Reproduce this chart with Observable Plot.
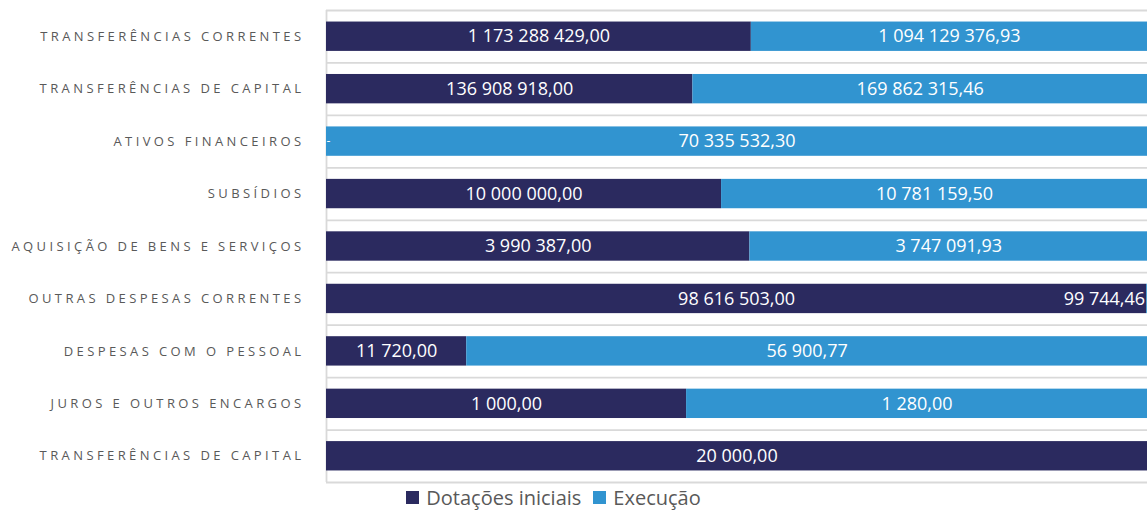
<!DOCTYPE html>
<html>
<head>
<meta charset="utf-8">
<script src="https://cdn.jsdelivr.net/npm/d3@7"></script>
<script src="https://cdn.jsdelivr.net/npm/@observablehq/plot@0.6"></script>
<style>
  body { margin: 0; background: #fff; font-family: "Open Sans", sans-serif; }
  #chart svg { display: block; }
  g[aria-label="y-axis tick label"] text { letter-spacing: 3.4px; }
  .legend { display: flex; justify-content: center; align-items: center; gap: 12px; font-size: 20px; color: #595959; height: 26px; padding-right: 40px; }
  .legend .item { display: flex; align-items: center; gap: 7px; }
  .legend .sw { width: 13px; height: 13px; display: inline-block; }
</style>
</head>
<body>
<div id="chart"></div>
<script>
const categories = [
  "TRANSFERÊNCIAS CORRENTES",
  "TRANSFERÊNCIAS DE CAPITAL",
  "ATIVOS FINANCEIROS",
  "SUBSÍDIOS",
  "AQUISIÇÃO DE BENS E SERVIÇOS",
  "OUTRAS DESPESAS CORRENTES",
  "DESPESAS COM O PESSOAL",
  "JUROS E OUTROS ENCARGOS",
  "TRANSFERÊNCIAS DE CAPITAL"
];
const dotacoes = [1173288429.00, 136908918.00, 0, 10000000.00, 3990387.00, 98616503.00, 11720.00, 1000.00, 20000.00];
const execucao = [1094129376.93, 169862315.46, 70335532.30, 10781159.50, 3747091.93, 99744.46, 56900.77, 1280.00, 0];
const seriesNames = ["Dotações iniciais", "Execução"];
const seriesColors = ["#2b2a5f", "#3194d0"];

const loc = d3.formatLocale({decimal: ",", thousands: " ", grouping: [3], currency: ["", ""]});
const fmt = v => v === 0 ? "-" : loc.format(",.2f")(v);

const rows = [];
categories.forEach((c, i) => {
  const tot = dotacoes[i] + execucao[i];
  rows.push({row: i, series: seriesNames[0], value: dotacoes[i], frac: dotacoes[i] / tot});
  rows.push({row: i, series: seriesNames[1], value: execucao[i], frac: execucao[i] / tot});
});

const W = 1147, H = 484, mT = 10, mB = 2;
const step = (H - mT - mB) / categories.length;
const idx = d3.range(categories.length);
const stackOpts = {x: "value", y: "row", z: "series", offset: "normalize", order: seriesNames};

const chart = Plot.plot({
  width: W, height: H,
  marginLeft: 326, marginRight: 0, marginTop: mT, marginBottom: mB,
  style: {fontFamily: "'Open Sans', sans-serif", background: "#fff"},
  x: {axis: null, domain: [0, 1]},
  y: {domain: idx, paddingInner: 0.44, paddingOuter: 0.22, round: false, axis: null},
  color: {domain: seriesNames, range: seriesColors},
  marks: [
    Plot.ruleY(idx, {y: d => d, dy: -step / 2, stroke: "#d9d9d9", strokeWidth: 1.8}),
    Plot.ruleY([idx[idx.length - 1]], {y: d => d, dy: step / 2, stroke: "#d9d9d9", strokeWidth: 1.8}),
    Plot.ruleX([0], {stroke: "#d9d9d9", strokeWidth: 1.8}),
    Plot.barX(rows, Plot.stackX({...stackOpts, fill: "series"})),
    Plot.text(rows, Plot.stackX({...stackOpts, text: d => d.frac >= 0.02 ? fmt(d.value) : "", fill: "white", fontSize: 18})),
    Plot.text(rows, Plot.stackX({...stackOpts, text: d => (d.value > 0 && d.frac < 0.02) ? fmt(d.value) : "", fill: "white", fontSize: 18, textAnchor: "end", dx: -2})),
    Plot.text(rows, Plot.stackX({...stackOpts, text: d => (d.value === 0 && d.series === seriesNames[0]) ? fmt(d.value) : "", fill: "white", fontSize: 12, textAnchor: "start"})),
    Plot.axisY({tickSize: 0, tickPadding: 22, tickFormat: i => categories[i], fontSize: 13, fill: "#595959", label: null})
  ]
});
document.getElementById("chart").appendChild(chart);

const leg = document.createElement("div");
leg.className = "legend";
seriesNames.forEach((s, i) => {
  const it = document.createElement("span");
  it.className = "item";
  const sw = document.createElement("span");
  sw.className = "sw";
  sw.style.background = seriesColors[i];
  it.appendChild(sw);
  it.appendChild(document.createTextNode(s));
  leg.appendChild(it);
});
document.body.appendChild(leg);
</script>
</body>
</html>
